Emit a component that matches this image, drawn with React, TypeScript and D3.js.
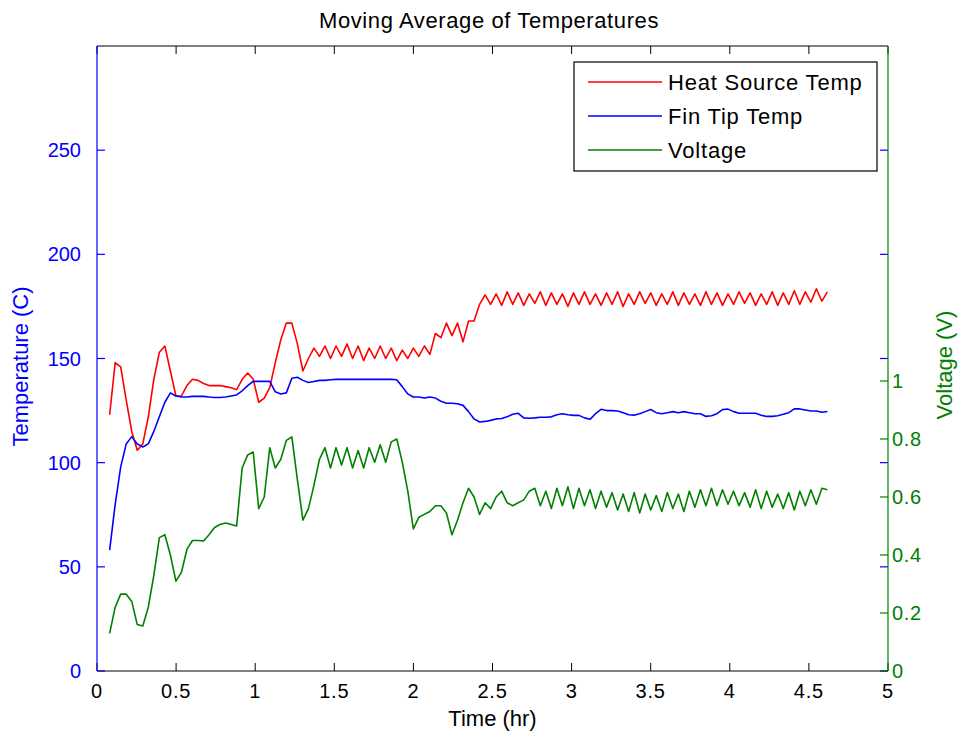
import React from "react";
import * as d3 from "d3";

// Sample times (hr): uniform logging interval
const T0 = 0.08;
const DT = 0.0349;

// Heat source temperature, moving average (°C)
const heatSource = [
  123, 148, 146, 130, 115, 106, 109, 122, 140, 153,
  156, 144, 132, 132, 137, 140, 139.5, 138, 137, 137,
  137, 136.5, 136, 135, 140, 143, 140, 129, 131, 136,
  148, 159, 167, 167, 157, 144, 150, 155, 151, 156,
  150, 156, 151, 157, 150, 156, 149, 155, 150, 156,
  150, 155, 149, 154, 150, 155, 151, 156, 152, 162,
  160, 167, 161, 167, 158, 168, 168, 176, 180.5, 176,
  181, 175.5, 182, 176, 181.5, 175.5, 181, 176.5, 182, 175.5,
  181.5, 176, 181, 175, 181.5, 176, 182, 176, 181, 175.5,
  181.5, 176, 182, 175, 181, 176, 182, 176.5, 181.5, 175.5,
  181, 176, 182, 175.5, 181.5, 176, 181, 175.5, 182, 176,
  181.5, 175.5, 181, 176, 182, 176.5, 181.5, 175.5, 181, 176,
  182, 175.5, 181.5, 176, 182.5, 176, 182, 177, 183.5, 177.5,
  182,
];

// Fin tip temperature, moving average (°C)
const finTip = [
  58, 80, 98, 109, 112.5, 109, 107.5, 109, 115, 122,
  129, 133.5, 132, 131.5, 131.5, 131.8, 131.8, 131.8, 131.5, 131.3,
  131.3, 131.5, 132, 132.5, 134.5, 137, 139, 139, 139, 139,
  134, 133, 133.5, 140.5, 141, 139.5, 138.5, 139, 139.5, 139.5,
  139.8, 140, 140, 140, 140, 140, 140, 140, 140, 140,
  140, 140, 139.8, 136.5, 133, 131.5, 131.5, 131, 131.5, 131,
  129.5, 128.5, 128.5, 128.3, 127.5, 124.5, 121, 119.5, 119.8, 120.3,
  121, 121.2, 122, 123.2, 123.7, 121.5, 121.3, 121.5, 121.8, 121.8,
  122, 123, 123.5, 123, 122.7, 122.7, 121.5, 120.8, 123.5, 125.6,
  125, 125, 124.8, 124, 123, 122.8, 123.5, 124.5, 125.5, 124,
  123.5, 124, 124.5, 124, 124.5, 124, 123.5, 123.5, 122.2, 122.5,
  123.5, 125.5, 125.7, 124.5, 123.7, 123.7, 123.7, 123.7, 122.8, 122.2,
  122.2, 122.5, 123.2, 124, 125.8, 125.8, 125.3, 124.8, 124.8, 124.2,
  124.6,
];

// Heater voltage, moving average (V)
const voltage = [
  0.13, 0.22, 0.265, 0.265, 0.24, 0.16, 0.155, 0.22, 0.33, 0.46,
  0.47, 0.4, 0.31, 0.34, 0.42, 0.45, 0.45, 0.448, 0.47, 0.495,
  0.505, 0.51, 0.505, 0.5, 0.7, 0.745, 0.755, 0.56, 0.6, 0.77,
  0.7, 0.73, 0.795, 0.807, 0.66, 0.52, 0.56, 0.64, 0.73, 0.77,
  0.7, 0.77, 0.71, 0.77, 0.7, 0.76, 0.7, 0.77, 0.72, 0.78,
  0.72, 0.79, 0.8, 0.72, 0.62, 0.49, 0.53, 0.54, 0.55, 0.57,
  0.57, 0.545, 0.47, 0.52, 0.58, 0.63, 0.6, 0.54, 0.58, 0.56,
  0.6, 0.62, 0.58, 0.57, 0.58, 0.59, 0.62, 0.63, 0.57, 0.62,
  0.56, 0.63, 0.57, 0.635, 0.56, 0.63, 0.57, 0.625, 0.56, 0.62,
  0.565, 0.615, 0.555, 0.61, 0.55, 0.615, 0.545, 0.61, 0.555, 0.605,
  0.55, 0.615, 0.56, 0.61, 0.55, 0.62, 0.565, 0.625, 0.57, 0.63,
  0.57, 0.625, 0.575, 0.62, 0.57, 0.615, 0.565, 0.625, 0.56, 0.62,
  0.565, 0.61, 0.56, 0.615, 0.555, 0.62, 0.57, 0.625, 0.575, 0.63,
  0.625,
];

const xTicks = [0, 0.5, 1, 1.5, 2, 2.5, 3, 3.5, 4, 4.5, 5];
const tempTicks = [0, 50, 100, 150, 200, 250];
const voltTicks = [0, 0.2, 0.4, 0.6, 0.8, 1];

const legendItems = [
  { label: "Heat Source Temp", color: "#ff0000" },
  { label: "Fin Tip Temp", color: "#0000ff" },
  { label: "Voltage", color: "#008000" },
];

const W = 959;
const H = 736;
const M = { left: 97, right: 888, top: 46, bottom: 671 };
const FONT = "'Liberation Sans', Arial, Helvetica, sans-serif";
const TICK = 8;
const LABEL_SIZE = 22;
const LABEL_SPACING = 0.6;

export default function App() {
  const x = d3.scaleLinear().domain([0, 5]).range([M.left, M.right]);
  const yT = d3.scaleLinear().domain([0, 300]).range([M.bottom, M.top]);
  const yV = d3.scaleLinear().domain([0, 2.155]).range([M.bottom, M.top]);

  const times = heatSource.map((_, i) => T0 + i * DT);

  const tempLine = d3
    .line<number>()
    .x((_, i) => x(times[i]))
    .y((d) => yT(d));
  const voltLine = d3
    .line<number>()
    .x((_, i) => x(times[i]))
    .y((d) => yV(d));

  const blue = "#0000ff";
  const green = "#008000";

  return (
    <svg
      width={W}
      height={H}
      style={{ position: "absolute", left: 0, top: 0, background: "#fff" }}
      fontFamily={FONT}
    >
      <rect x={0} y={0} width={W} height={H} fill="#fff" />

      {/* data series */}
      <g fill="none" strokeWidth={1.6} strokeLinejoin="round">
        <path d={tempLine(heatSource) ?? ""} stroke="#ff0000" />
        <path d={tempLine(finTip) ?? ""} stroke={blue} />
        <path d={voltLine(voltage) ?? ""} stroke={green} />
      </g>

      {/* box: top and bottom in black */}
      <line x1={M.left} x2={M.right} y1={M.top} y2={M.top} stroke="#000" strokeWidth={1.2} />
      <line x1={M.left} x2={M.right} y1={M.bottom} y2={M.bottom} stroke="#000" strokeWidth={1.2} />

      {/* x ticks */}
      {xTicks.map((t) => (
        <g key={"x" + t}>
          <line x1={x(t)} x2={x(t)} y1={M.bottom} y2={M.bottom - TICK} stroke="#000" />
          <line x1={x(t)} x2={x(t)} y1={M.top} y2={M.top + TICK} stroke="#000" />
          <text x={x(t)} y={M.bottom + 27} textAnchor="middle" fontSize={20} letterSpacing={0.8} fill="#000">
            {String(t)}
          </text>
        </g>
      ))}

      {/* left axis (temperature) */}
      <line x1={M.left} x2={M.left} y1={M.top} y2={M.bottom} stroke={blue} strokeWidth={1.2} />
      {tempTicks.map((t) => (
        <g key={"t" + t}>
          <line x1={M.left} x2={M.left + TICK} y1={yT(t)} y2={yT(t)} stroke={blue} strokeWidth={1.2} />
          <line x1={M.right} x2={M.right - TICK} y1={yT(t)} y2={yT(t)} stroke={blue} strokeWidth={1.2} />
          <text x={M.left - 16} y={yT(t) + 7} textAnchor="end" fontSize={20} fill={blue}>
            {String(t)}
          </text>
        </g>
      ))}
      <text
        transform={`translate(28,${(M.top + M.bottom) / 2 + 8}) rotate(-90)`}
        textAnchor="middle"
        fontSize={LABEL_SIZE}
        fill={blue}
      >
        Temperature (C)
      </text>

      {/* right axis (voltage) */}
      <line x1={M.right} x2={M.right} y1={M.top} y2={M.bottom} stroke={green} strokeWidth={1.2} />
      {voltTicks.map((v) => (
        <g key={"v" + v}>
          <line x1={M.right} x2={M.right - TICK} y1={yV(v)} y2={yV(v)} stroke={green} strokeWidth={1.2} />
          <text x={M.right + 4} y={yV(v) + 7} textAnchor="start" fontSize={20} letterSpacing={0.6} fill={green}>
            {String(v)}
          </text>
        </g>
      ))}
      <text
        transform={`translate(952,365) rotate(-90)`}
        textAnchor="middle"
        fontSize={LABEL_SIZE}
        fill={green}
      >
        Voltage (V)
      </text>

      {/* axis title and chart title */}
      <text x={(M.left + M.right) / 2} y={726} textAnchor="middle" fontSize={LABEL_SIZE} fill="#000">
        Time (hr)
      </text>
      <text
        x={489}
        y={28}
        textAnchor="middle"
        fontSize={LABEL_SIZE}
        letterSpacing={LABEL_SPACING}
        fill="#000"
      >
        Moving Average of Temperatures
      </text>

      {/* legend */}
      <g>
        <rect x={574} y={62} width={303} height={109} fill="#fff" stroke="#000" strokeWidth={1.2} />
        {legendItems.map((it, i) => {
          const cy = 82 + i * 34;
          return (
            <g key={it.label}>
              <line x1={588} x2={662} y1={cy} y2={cy} stroke={it.color} strokeWidth={1.6} />
              <text x={668} y={cy + 8} fontSize={LABEL_SIZE} letterSpacing={0.8} fill="#000">
                {it.label}
              </text>
            </g>
          );
        })}
      </g>
    </svg>
  );
}
